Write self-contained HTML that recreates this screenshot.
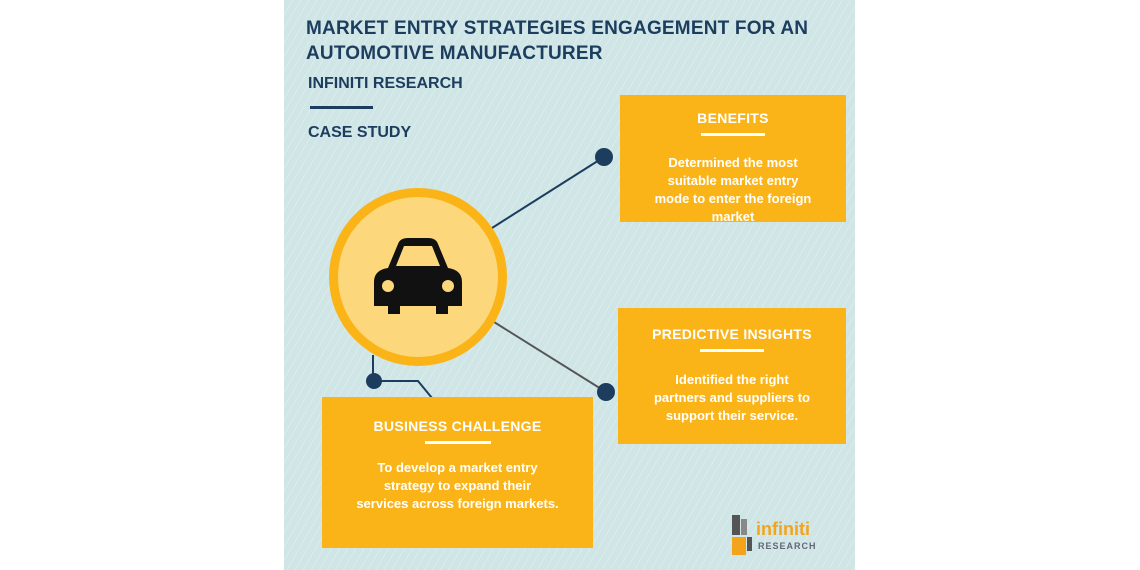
<!DOCTYPE html>
<html><head><style>
body{margin:0;width:1140px;height:570px;background:#fff;position:relative;overflow:hidden;font-family:"Liberation Sans",sans-serif}
.panel{position:absolute;left:284px;top:0;width:571px;height:570px;background:#cfe5e6;background-image:repeating-linear-gradient(120deg,rgba(255,255,255,0.25) 0 1px,transparent 1px 7px)}
.t{position:absolute;color:#1c3d5e;font-weight:bold}
.box{position:absolute;background:#fbb418;color:#fff;font-weight:bold;text-align:center;font-size:13px;line-height:18px}
.box h3{margin:0;font-size:14px;letter-spacing:.3px}
.box .bar{width:64px;height:3px;background:#fff;margin:6px auto 12px}
</style></head><body>
<div class="panel"></div>
<div class="t" style="left:306px;top:16px;font-size:19px;line-height:25px;letter-spacing:.2px">MARKET ENTRY STRATEGIES ENGAGEMENT FOR AN<br>AUTOMOTIVE MANUFACTURER</div>
<div class="t" style="left:308px;top:75px;font-size:16px">INFINITI RESEARCH</div>
<div style="position:absolute;left:310px;top:106px;width:63px;height:3px;background:#1c3d5e"></div>
<div class="t" style="left:308px;top:124px;font-size:16px">CASE STUDY</div>
<svg style="position:absolute;left:0;top:0" width="1140" height="570">
<line x1="492" y1="228" x2="604" y2="157" stroke="#1c3d5e" stroke-width="2"/>
<line x1="494" y1="322" x2="606" y2="392" stroke="#555" stroke-width="2"/>
<polyline points="373,355 373,381 418,381 432,398" fill="none" stroke="#1c3d5e" stroke-width="2"/>
<circle cx="418" cy="277" r="89" fill="#fbb418"/>
<circle cx="418" cy="277" r="80" fill="#fdd77c"/>
<circle cx="604" cy="157" r="9" fill="#1c3d5e"/>
<circle cx="606" cy="392" r="9" fill="#1c3d5e"/>
<circle cx="374" cy="381" r="8" fill="#1c3d5e"/>
<g fill="#111">
<path d="M388 268 L398 244 Q400 238 408 238 L428 238 Q436 238 438 244 L448 268 Q462 270 462 282 L462 306 L448 306 L448 314 L436 314 L436 306 L400 306 L400 314 L388 314 L388 306 L374 306 L374 282 Q374 270 388 268 Z"/>
</g>
<path d="M396 266 L404 246 L432 246 L440 266 Z" fill="#fdd77c"/>
<circle cx="388" cy="286" r="6" fill="#fdd77c"/>
<circle cx="448" cy="286" r="6" fill="#fdd77c"/>
<g transform="translate(732,515)">
<rect x="0" y="0" width="8" height="20" fill="#555"/><rect x="9" y="4" width="6" height="16" fill="#888"/>
<rect x="0" y="22" width="14" height="18" fill="#f4a41b"/><rect x="15" y="22" width="5" height="14" fill="#555"/>
</g>
<text x="756" y="535" font-family="Liberation Sans" font-weight="bold" font-size="18" fill="#f4a41b">infiniti</text>
<text x="758" y="549" font-family="Liberation Sans" font-weight="bold" font-size="9" fill="#667" letter-spacing="1">RESEARCH</text>
</svg>
<div class="box" style="left:620px;top:95px;width:226px;height:127px;padding-top:14px;box-sizing:border-box"><h3>BENEFITS</h3><div class="bar" style="margin-bottom:18px"></div>Determined the most<br>suitable market entry<br>mode to enter the foreign<br>market</div>
<div class="box" style="left:618px;top:308px;width:228px;height:136px;padding-top:17px;box-sizing:border-box"><h3>PREDICTIVE INSIGHTS</h3><div class="bar" style="margin-bottom:19px"></div>Identified the right<br>partners and suppliers to<br>support their service.</div>
<div class="box" style="left:322px;top:397px;width:271px;height:151px;padding-top:20px;box-sizing:border-box"><h3>BUSINESS CHALLENGE</h3><div class="bar" style="width:66px;margin-bottom:15px"></div>To develop a market entry<br>strategy to expand their<br>services across foreign markets.</div>
</body></html>
